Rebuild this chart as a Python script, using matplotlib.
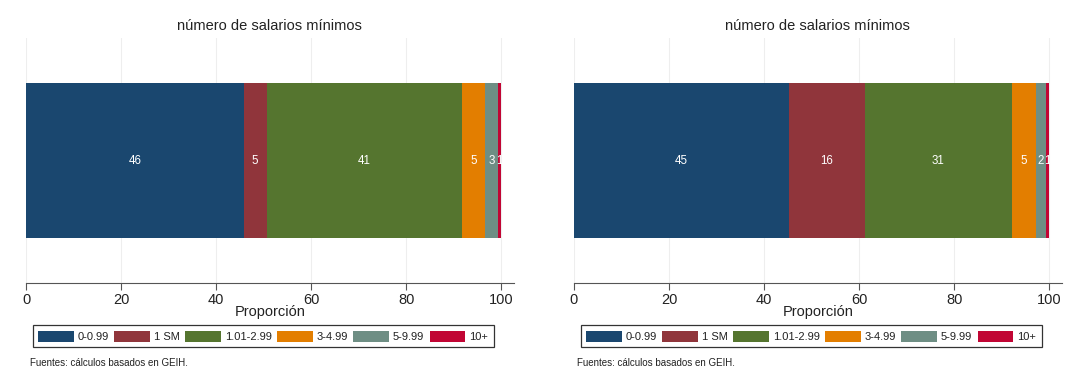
import numpy as np
import matplotlib.pyplot as plt
from matplotlib.patches import Patch

# categories and shares (percent)
categorias = ['0-0.99', '1 SM', '1.01-2.99', '3-4.99', '5-9.99', '10+']
izq = [45.8, 4.8, 41.0, 5.0, 2.7, 0.7]
der = [45.2, 16.0, 30.9, 5.0, 2.1, 0.8]
colores = ['#1a476f', '#90353b', '#55752f', '#e37e00', '#6e8e84', '#c10534']
titulo = 'número de salarios mínimos'
nota = 'Fuentes: cálculos basados en GEIH.'

plt.rcParams['font.family'] = ['Liberation Sans', 'DejaVu Sans']

fig = plt.figure(figsize=(10.84, 3.9), dpi=100)
ax1 = fig.add_axes([0.024, 0.274, 0.45, 0.628])
ax2 = fig.add_axes([0.5295, 0.274, 0.45, 0.628])


def panel(ax, vals):
    left = 0
    for v, c in zip(vals, colores):
        ax.barh(0, v, left=left, height=0.633, color=c, edgecolor='none', zorder=2)
        ax.text(left + v / 2, 0, f'{v:.0f}', color='white', ha='center', va='center',
                fontsize=8.3, zorder=3)
        left += v
    ax.set_xlim(0, 102.6)
    ax.set_ylim(-0.5, 0.5)
    ax.set_xticks([0, 20, 40, 60, 80, 100])
    ax.set_yticks([])
    for x in [0, 20, 40, 60, 80, 100]:
        ax.axvline(x, color='#eeeeee', lw=0.8, zorder=1)
    for s in ['top', 'right', 'left']:
        ax.spines[s].set_visible(False)
    ax.spines['bottom'].set_color('#555555')
    ax.tick_params(axis='x', direction='out', length=5, color='#555555',
                   labelsize=10.5, labelcolor='#222222', pad=2)
    ax.set_xlabel('Proporción', fontsize=10.5, color='#222222', labelpad=-1)
    ax.set_title(titulo, fontsize=10.5, color='#222222', pad=6)
    handles = [Patch(facecolor=c, edgecolor='none') for c in colores]
    leg = ax.legend(handles, categorias, loc='upper center', ncol=6,
                    bbox_to_anchor=(0.486, -0.171), borderaxespad=0, fontsize=8,
                    handlelength=3.2, handleheight=1.17, handletextpad=0.35,
                    columnspacing=0.5, borderpad=0.5, fancybox=False, framealpha=1)
    leg.get_frame().set_edgecolor('#333333')
    leg.get_frame().set_linewidth(0.9)
    for t in leg.get_texts():
        t.set_color('#222222')


panel(ax1, izq)
panel(ax2, der)

fig.text(0.028, 0.062, nota, fontsize=7, color='#222222')
fig.text(0.532, 0.062, nota, fontsize=7, color='#222222')

fig.savefig('out.png', dpi=100)
